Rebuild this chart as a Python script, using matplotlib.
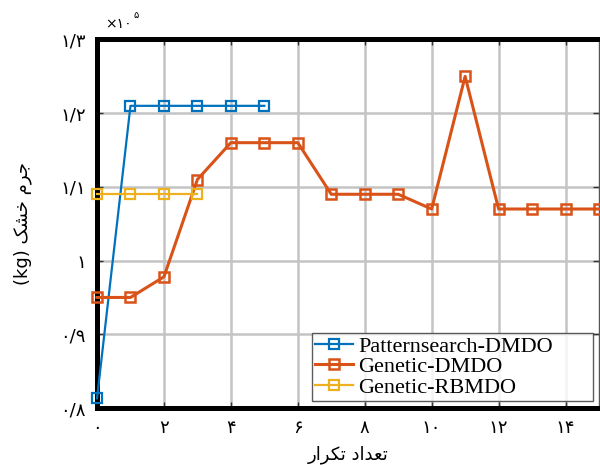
import matplotlib
matplotlib.use('Agg')
import matplotlib.pyplot as plt

# داده ها (مقدار ×1e5)
iters_ps = [0, 1, 2, 3, 4, 5]
mass_ps = [0.813, 1.210, 1.210, 1.210, 1.210, 1.210]

iters_ga = list(range(16))
mass_ga = [0.950, 0.950, 0.978, 1.110, 1.160, 1.160, 1.160, 1.090,
           1.090, 1.090, 1.070, 1.250, 1.070, 1.070, 1.070, 1.070]

iters_rb = [0, 1, 2, 3]
mass_rb = [1.090, 1.090, 1.090, 1.090]

labels = ['Patternsearch-DMDO', 'Genetic-DMDO', 'Genetic-RBMDO']
colors = ['#0072BD', '#D95319', '#EDB120']

xticks = [0, 2, 4, 6, 8, 10, 12, 14]
xtick_labels = ['۰', '۲', '۴', '۶', '۸', '۱۰', '۱۲', '۱۴']
yticks = [0.8, 0.9, 1.0, 1.1, 1.2, 1.3]
ytick_labels = ['۰/۸', '۰/۹', '۱', '۱/۱', '۱/۲', '۱/۳']

# متن فارسی با شکل های نمایشی و ترتیب دیداری (matplotlib شکل دهی عربی ندارد)
xlabel_fa = '\u0631\u0627\ufeae\ufb91\ufe97 \u062f\u0627\ufeaa\ufecc\ufe97'   # تعداد تکرار
ylabel_fa = '(kg) \ufb8f\ufeb8\ufea7 \ufee1\ufeae\ufe9f'                       # جرم خشک (kg)

fig = plt.figure(figsize=(6, 4.65), dpi=100)
ax = fig.add_axes([97 / 600, 57 / 465, 502 / 600, 368.5 / 465])

ax.plot(iters_ps, mass_ps, '-s', color=colors[0], lw=1.6, ms=7,
        mfc='none', mew=1.6, label=labels[0], zorder=3, clip_on=False)
ax.plot(iters_ga, mass_ga, '-s', color=colors[1], lw=2.2, ms=7,
        mfc='none', mew=1.8, label=labels[1], zorder=3, clip_on=False)
ax.plot(iters_rb, mass_rb, '-s', color=colors[2], lw=1.6, ms=7,
        mfc='none', mew=1.6, label=labels[2], zorder=3, clip_on=False)

ax.set_xlim(0, 15)
ax.set_ylim(0.8, 1.3)
ax.set_xticks(xticks)
ax.set_xticklabels(xtick_labels, fontsize=13, family='DejaVu Sans')
ax.set_yticks(yticks)
ax.set_yticklabels(ytick_labels, fontsize=13, family='DejaVu Sans')
ax.tick_params(direction='in', length=4, width=1, right=True, top=True,
               colors='#333333', labelcolor='black', pad=8)
ax.grid(True, color='#c4c4c4', lw=1.8)
ax.set_axisbelow(True)

for side in ['left', 'bottom', 'top']:
    ax.spines[side].set_linewidth(3.6)
    ax.spines[side].set_color('black')
ax.spines['right'].set_linewidth(1)
ax.spines['right'].set_color('#555555')

ax.set_xlabel(xlabel_fa, fontsize=13, family='DejaVu Sans', labelpad=6)
ax.set_ylabel(ylabel_fa, fontsize=13, family='DejaVu Sans', labelpad=20)

# ضریب محور y
t1 = fig.text(105 / 600, 1 - 24 / 465, '×۱۰', fontsize=10,
              family='DejaVu Sans', va='center', ha='left')
ax.annotate('۵', xy=(1, 0.75), xycoords=t1, xytext=(1, 0),
            textcoords='offset points', fontsize=7, family='DejaVu Sans',
            va='bottom', ha='left')

leg = ax.legend(loc='lower left', bbox_to_anchor=(0.428, 0.019, 0.560, 0.2),
                mode='expand',
                prop={'family': 'Liberation Serif', 'size': 16},
                frameon=True, fancybox=False, edgecolor='#333333',
                handlelength=1.7, handletextpad=0.25, labelspacing=0.0,
                borderpad=0.15, borderaxespad=0)
leg.get_frame().set_linewidth(1)

fig.savefig('out.png', dpi=100)
